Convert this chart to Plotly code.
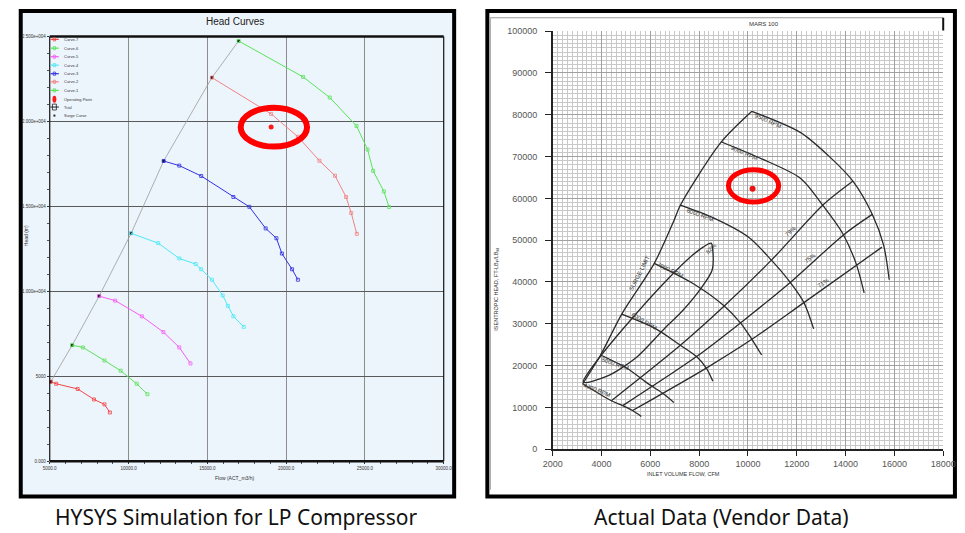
import plotly.graph_objects as go

W, H = 965, 533

def px(x):
    return x / W

def py(y):
    return 1 - y / H

# ---------------- Left chart (HYSYS) data ----------------
curve_names = ["Curve-1", "Curve-2", "Curve-3", "Curve-4", "Curve-5", "Curve-6", "Curve-7"]
curve1_flow = [16985, 21077, 22769, 24468, 25169, 25522, 26204, 26533]
curve1_head = [24730, 22617, 21404, 19730, 18344, 17091, 15879, 14955]
curve2_flow = [15292, 19049, 20748, 22112, 23104, 23805, 24133, 24487]
curve2_head = [22576, 20440, 19095, 17686, 16802, 15550, 14608, 13378]
curve3_flow = [12229, 13221, 14610, 16656, 17667, 18702, 19384, 19731, 20376, 20748]
curve3_head = [17668, 17397, 16785, 15550, 14972, 13702, 13124, 12224, 11300, 10682]
curve4_flow = [10165, 11882, 13221, 14257, 14610, 15292, 15974, 16303, 16656, 17313]
curve4_head = [13413, 12836, 11935, 11606, 11300, 10682, 9758, 9140, 8528, 7910]
curve5_flow = [8137, 9154, 10847, 12211, 13221, 13928]
curve5_head = [9718, 9452, 8528, 7604, 6698, 5757]
curve6_flow = [6426, 7108, 8472, 9501, 10518, 11200]
curve6_head = [6831, 6698, 5930, 5329, 4561, 3944]
curve7_flow = [5062, 5409, 6773, 7809, 8472, 8819]
curve7_head = [4677, 4561, 4255, 3638, 3349, 2870]
surge_flow = [5062, 6426, 8137, 10165, 12229, 15292, 16985]
surge_head = [4677, 6831, 9718, 13413, 17668, 22576, 24730]
op_flow = [19049]
op_head = [19672]
left_x_ticks = [5000, 10000, 15000, 20000, 25000, 30000]
left_x_labels = ["5000.0", "10000.0", "15000.0", "20000.0", "25000.0", "30000.0"]
left_y_ticks = [0, 5000, 10000, 15000, 20000, 25000]
left_y_labels = ["0.000", "5000", "1.000e+004", "1.500e+004", "2.000e+004", "2.500e+004"]

# ---------------- Right chart (vendor) data ----------------
rpm9500_flow = [10160, 12160, 13360, 14292, 15092, 15560, 15788]
rpm9500_head = [80830, 75738, 69870, 64167, 56187, 48747, 40533]
rpm9000_flow = [8892, 10560, 12160, 13092, 13892, 14428, 14760]
rpm9000_head = [73556, 69471, 64777, 58135, 51493, 44452, 37411]
rpm8000_flow = [7228, 8560, 10028, 10960, 11732, 12292, 12692]
rpm8000_head = [58370, 55389, 50695, 45227, 39899, 35064, 28798]
rpm7000_flow = [6160, 7828, 9028, 9692, 10160, 10560]
rpm7000_head = [44452, 39359, 34266, 30206, 26286, 22531]
rpm6000_flow = [4828, 6228, 7228, 7892, 8292, 8560]
rpm6000_head = [32318, 28798, 24878, 22156, 19410, 16288]
rpm5000_flow = [3960, 5028, 5760, 6160, 6560, 6960]
rpm5000_head = [22531, 19410, 16288, 14716, 13143, 11195]
rpm4200_flow = [3228, 4400, 4868, 5268, 5628]
rpm4200_head = [15654, 11594, 10421, 9247, 7839]
surge_limit_flow = [3228, 3960, 4828, 6160, 6960, 7228, 8892, 10160]
surge_limit_head = [15654, 22531, 32318, 44452, 54616, 58370, 73391, 80830]
eff79_flow = [4400, 7228, 9028, 10960, 13092, 14292]
eff79_head = [11594, 24878, 34266, 45227, 58535, 64100]
eff75_flow = [4868, 7892, 9692, 11732, 13960, 15092]
eff75_head = [10421, 22156, 30206, 39899, 51493, 56187]
eff71_flow = [5268, 8292, 10160, 12292, 15492]
eff71_head = [9247, 19410, 26286, 35064, 48348]
eff82_flow = [3252, 3892, 5228, 6560, 7492, 8160, 8492, 8560, 8532, 8132, 7300, 6600, 5400, 4200, 3252]
eff82_head = [16053, 21757, 31145, 39758, 45227, 48348, 49287, 47400, 42880, 38960, 33000, 29000, 21800, 17400, 16053]
vendor_op_flow = [10188]
vendor_op_head = [62289]
right_x_ticks = list(range(2000, 18001, 2000))
right_y_ticks = list(range(0, 100001, 10000))

fig = go.Figure()

# ---- left traces ----
left_series = [
    (curve1_flow, curve1_head, "#5be35b"),
    (curve2_flow, curve2_head, "#f08282"),
    (curve3_flow, curve3_head, "#3232e0"),
    (curve4_flow, curve4_head, "#4de8f5"),
    (curve5_flow, curve5_head, "#f55ef5"),
    (curve6_flow, curve6_head, "#5be35b"),
    (curve7_flow, curve7_head, "#f24545"),
]
fig.add_trace(go.Scatter(x=surge_flow, y=surge_head, mode="lines+markers",
                         line=dict(color="#9a9a9a", width=0.8),
                         marker=dict(symbol="square", size=3, color="#111"),
                         xaxis="x", yaxis="y", showlegend=False, hoverinfo="skip"))
for (fx, fy, col), nm in zip(left_series, curve_names):
    fig.add_trace(go.Scatter(x=fx, y=fy, mode="lines+markers", name=nm,
                             line=dict(color=col, width=1),
                             marker=dict(symbol="square-open", size=3, color=col, line=dict(width=0.8)),
                             xaxis="x", yaxis="y", showlegend=False))
fig.add_trace(go.Scatter(x=op_flow, y=op_head, mode="markers", name="Operating Point",
                         marker=dict(symbol="circle", size=5, color="#ff1a1a"),
                         xaxis="x", yaxis="y", showlegend=False))

# ---- right traces ----
right_lines = [
    (rpm9500_flow, rpm9500_head), (rpm9000_flow, rpm9000_head), (rpm8000_flow, rpm8000_head),
    (rpm7000_flow, rpm7000_head), (rpm6000_flow, rpm6000_head), (rpm5000_flow, rpm5000_head),
    (rpm4200_flow, rpm4200_head), (surge_limit_flow, surge_limit_head),
    (eff79_flow, eff79_head), (eff75_flow, eff75_head), (eff71_flow, eff71_head),
    (eff82_flow, eff82_head),
]
for fx, fy in right_lines:
    fig.add_trace(go.Scatter(x=fx, y=fy, mode="lines",
                             line=dict(color="#2b2b2b", width=1.3, shape="spline", smoothing=0.8),
                             xaxis="x2", yaxis="y2", showlegend=False, hoverinfo="skip"))
fig.add_trace(go.Scatter(x=vendor_op_flow, y=vendor_op_head, mode="markers",
                         marker=dict(symbol="circle", size=6, color="#ee1111"),
                         xaxis="x2", yaxis="y2", showlegend=False))

shapes = []

def rect(x0, y0, x1, y1, **kw):
    shapes.append(dict(type="rect", xref="paper", yref="paper",
                       x0=px(x0), x1=px(x1), y0=py(y1), y1=py(y0), **kw))

def line(x0, y0, x1, y1, color, width, layer="above"):
    shapes.append(dict(type="line", xref="paper", yref="paper",
                       x0=px(x0), x1=px(x1), y0=py(y0), y1=py(y1),
                       line=dict(color=color, width=width), layer=layer))

def ellipse(cx, cy, rx, ry, **kw):
    shapes.append(dict(type="circle", xref="paper", yref="paper",
                       x0=px(cx - rx), x1=px(cx + rx), y0=py(cy + ry), y1=py(cy - ry), **kw))

# backgrounds / borders
rect(11, 6, 455, 501, fillcolor="#edf5fc", line=dict(color="#000", width=4), layer="below")
rect(489, 6, 968, 501, fillcolor="#ffffff", line=dict(color="#000", width=4), layer="below")
# left plot frame
line(40.7, 32, 444.3, 32, "#111", 2.5)
line(40.7, 465, 444.3, 465, "#111", 2.5)
line(40.7, 32, 40.7, 465, "#111", 1.2)
line(444.3, 32, 444.3, 465, "#111", 1.2)
# right inner frame
line(492, 13, 956, 13, "#9a9a9a", 1)
line(492, 13, 492, 494, "#9a9a9a", 1)
line(956, 13, 956, 26, "#111", 2)
# red ellipses
ellipse(270.3, 124.5, 34, 19.8, line=dict(color="#ff0000", width=6))
ellipse(761.7, 184.3, 25.7, 16.5, line=dict(color="#ff0000", width=5))

annotations = []

def text(x, y, s, size, color="#222", angle=0, xanchor="center", family="Liberation Sans"):
    annotations.append(dict(xref="paper", yref="paper", x=px(x), y=py(y), text=s,
                            showarrow=False, textangle=angle, xanchor=xanchor, yanchor="middle",
                            font=dict(size=size, color=color, family=family)))

# left legend (drawn by hand, as in HYSYS)
legend_labels = ["Curve-7", "Curve-6", "Curve-5", "Curve-4", "Curve-3", "Curve-2", "Curve-1",
                 "Operating Point", "Trial", "Surge Curve"]
legend_colors = ["#f24545", "#5be35b", "#f55ef5", "#4de8f5", "#3232e0", "#f08282", "#5be35b",
                 "#ff1a1a", "#222", "#222"]
legend_y = [35, 44, 52.7, 61.3, 70, 78.3, 87, 96, 104, 112.7]
for lab, col, yy in zip(legend_labels, legend_colors, legend_y):
    if lab == "Operating Point":
        ellipse(45.5, yy, 2, 3.5, fillcolor=col, line=dict(width=0))
    elif lab == "Trial":
        line(41.5, yy, 50, yy, col, 1)
        rect(43.5, yy - 3, 47.5, yy + 3, line=dict(color=col, width=0.8))
    elif lab == "Surge Curve":
        rect(44.5, yy - 1, 46.5, yy + 1, fillcolor=col, line=dict(width=0))
    else:
        line(41.5, yy, 50, yy, col, 1.2)
        rect(44.3, yy - 1.6, 46.7, yy + 1.6, line=dict(color=col, width=0.8))
    text(53.5, yy, lab, 4, "#333", xanchor="left")

# titles / captions
text(230, 17, "Head Curves", 10, "#222", family="Liberation Sans Narrow, Liberation Sans")
text(230, 482, "Flow (ACT_m3/h)", 5, "#333", family="Liberation Sans Narrow, Liberation Sans")
text(16, 235, "Head (m)", 5, "#333", angle=-90, family="Liberation Sans Narrow, Liberation Sans")
text(232, 522, "HYSYS Simulation for LP Compressor", 21, "#111", family="Noto Sans")
text(728, 522, "Actual Data (Vendor Data)", 21, "#111", family="Noto Sans")
text(772, 19, "MARS 100", 6, "#333")
text(690, 478, "INLET VOLUME FLOW, CFM", 5.5, "#333")
text(498, 290, "ISENTROPIC HEAD, FT-LB<sub>F</sub>/LB<sub>M</sub>", 5.5, "#333", angle=-90)

# curve labels on vendor map
for (x, y, s, a) in [
    (777, 118, "9500 RPM", 24), (752, 151, "9000 RPM", 23), (707, 214, "8000 RPM", 20),
    (676, 270, "7000 RPM", 26), (649, 322, "6000 RPM", 31), (620, 366, "5000 RPM", 19),
    (601, 392, "4200 RPM", 22), (645, 273, "SURGE LIMIT", -63),
    (800, 230, "79%", -42), (820, 258, "75%", -37), (833, 283, "71%", -33), (719, 248, "82%", -45),
]:
    text(x, y, s, 6, "#333", angle=a)

fig.update_layout(
    width=W, height=H, margin=dict(l=0, r=0, t=0, b=0),
    paper_bgcolor="#ffffff", plot_bgcolor="rgba(0,0,0,0)",
    font=dict(family="Liberation Sans", color="#333"),
    shapes=shapes, annotations=annotations, showlegend=False,
    xaxis=dict(domain=[px(40.7), px(444.3)], range=[5000, 30000],
               tickvals=left_x_ticks, ticktext=left_x_labels,
               tickfont=dict(size=4.5, color="#333"), ticks="outside", ticklen=2, tickcolor="#333",
               minor=dict(dtick=1000, ticks="outside", ticklen=2, tickcolor="#555", showgrid=False),
               showgrid=True, gridcolor="#8c8c8c", gridwidth=1.3, zeroline=False, showline=False,
               anchor="y", fixedrange=True),
    yaxis=dict(domain=[py(465), py(32)], range=[0, 25000],
               tickvals=left_y_ticks, ticktext=left_y_labels,
               tickfont=dict(size=4.5, color="#333"), ticks="outside", ticklen=2, tickcolor="#333",
               minor=dict(dtick=1000, ticks="outside", ticklen=2, tickcolor="#555", showgrid=False),
               showgrid=True, gridcolor="#5a5a5a", gridwidth=1.3, zeroline=False, showline=False,
               anchor="x", fixedrange=True),
    xaxis2=dict(domain=[px(556), px(956)], range=[2000, 18000],
                tickvals=right_x_ticks, tickformat="d", tickfont=dict(size=9, color="#555"),
                ticks="outside", ticklen=5, tickcolor="#222",
                showgrid=True, gridcolor="#a0a0a0", gridwidth=1,
                minor=dict(dtick=200, showgrid=True, gridcolor="#c8c8c8", gridwidth=1),
                showline=True, linecolor="#222", linewidth=1.5, zeroline=False,
                anchor="y2", fixedrange=True),
    yaxis2=dict(domain=[py(452.7), py(26.7)], range=[0, 100000],
                tickvals=right_y_ticks, tickformat="d", tickfont=dict(size=9, color="#555"),
                ticks="outside", ticklen=6, tickcolor="#222", ticklabelstandoff=6,
                showgrid=True, gridcolor="#a0a0a0", gridwidth=1,
                minor=dict(dtick=1000, showgrid=True, gridcolor="#c8c8c8", gridwidth=1),
                showline=True, linecolor="#222", linewidth=1.5, zeroline=False,
                anchor="x2", fixedrange=True),
)

fig.write_html("out.html", config={"displayModeBar": False},
               post_script="document.body.style.margin='0px';document.body.style.padding='0px';"
                           "document.documentElement.style.overflow='hidden';")
